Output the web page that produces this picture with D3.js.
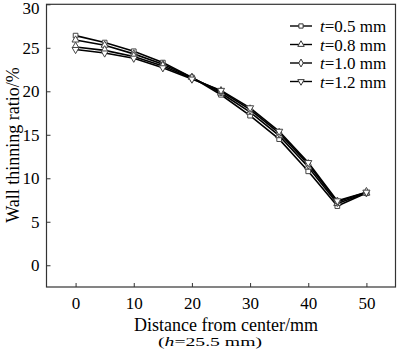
<!DOCTYPE html>
<html><head><meta charset="utf-8">
<script src="https://cdn.jsdelivr.net/npm/d3@7"></script>
<style>body{margin:0;background:#fff}svg{display:block;font-family:"Liberation Serif","Times New Roman",serif}</style>
</head><body>
<svg id="c" width="400" height="350"></svg>
<script>
const distances = [0,5,10,15,20,25,30,35,40,45,50];
const seriesNames = ["0.5 mm","0.8 mm","1.0 mm","1.2 mm"];
const t05 = [26.4,25.6,24.6,23.3,21.6,19.6,17.2,14.5,10.8,6.8,8.3];
const t08 = [25.9,25.3,24.3,23.1,21.6,19.8,17.6,14.9,11.3,7.1,8.3];
const t10 = [25.1,24.7,24.0,22.9,21.5,20.0,17.9,15.2,11.6,7.3,8.4];
const t12 = [24.8,24.4,23.8,22.7,21.4,20.1,18.1,15.4,11.8,7.4,8.4];
const xTicks = [0,10,20,30,40,50];
const yTicks = [0,5,10,15,20,25,30];
const seriesValues = [t05,t08,t10,t12];
const symbols = [d3.symbolSquare, d3.symbolTriangle, d3.symbolDiamond, d3.symbolTriangle];

const svg = d3.select("#c");
const L=46.5, R=395.5, T=4.3, B=287;
const x = d3.scaleLinear().domain([-5,55]).range([L,R]);
const y = d3.scaleLinear().domain([-2.5,30]).range([B,T]);

svg.append("rect").attr("x",L).attr("y",T).attr("width",R-L).attr("height",B-T)
  .attr("fill","none").attr("stroke","#333").attr("stroke-width",1.2);

const xa = svg.append("g").attr("transform",`translate(0,${B})`)
  .call(d3.axisBottom(x).tickValues(xTicks).tickSizeInner(-4).tickSizeOuter(0).tickPadding(10));
xa.select(".domain").remove();
xa.selectAll("text").attr("font-size",17).attr("fill","#000").attr("font-family","Liberation Serif");
xa.selectAll("line").attr("stroke","#333");

const ya = svg.append("g").attr("transform",`translate(${L},0)`)
  .call(d3.axisLeft(y).tickValues(yTicks).tickSizeInner(-4).tickSizeOuter(0).tickPadding(7));
ya.select(".domain").remove();
ya.selectAll("text").attr("font-size",17).attr("fill","#000").attr("font-family","Liberation Serif")
  .attr("dy",(d)=> d===30 ? "0.55em" : "0.32em");
ya.selectAll("line").attr("stroke","#333");

svg.append("text").attr("x",226).attr("y",331).attr("text-anchor","middle")
  .attr("font-size",18).text("Distance from center/mm");
const sub = svg.append("text").attr("x",158).attr("y",346).attr("font-size",13)
  .attr("textLength",104).attr("lengthAdjust","spacingAndGlyphs");
sub.append("tspan").text("(");
sub.append("tspan").attr("font-style","italic").text("h");
sub.append("tspan").text("=25.5 mm)");
svg.append("text").attr("transform","translate(19,145) rotate(-90)").attr("text-anchor","middle")
  .attr("font-size",18).text("Wall thinning ratio/%");

const line = d3.line().x((d,i)=>x(distances[i])).y(d=>y(d));
seriesValues.forEach((vals,k)=>{
  svg.append("path").datum(vals).attr("d",line).attr("fill","none")
    .attr("stroke","#000").attr("stroke-width",1.6);
});
seriesValues.forEach((vals,k)=>{
  const sym = d3.symbol().type(symbols[k]).size(k===2?26:22);
  svg.append("g").selectAll("path").data(vals).join("path")
    .attr("d",sym)
    .attr("transform",(d,i)=>`translate(${x(distances[i])},${y(d)})${k===3?" rotate(180)":""}`)
    .attr("fill","#fff").attr("stroke","#444").attr("stroke-width",1);
});

const lg = svg.append("g");
seriesNames.forEach((n,k)=>{
  const yy = 26 + k*18.5;
  lg.append("line").attr("x1",290).attr("x2",312).attr("y1",yy).attr("y2",yy)
    .attr("stroke","#000").attr("stroke-width",1.4);
  const sym = d3.symbol().type(symbols[k]).size(18);
  lg.append("path").attr("d",sym).attr("transform",`translate(301,${yy})${k===3?" rotate(180)":""}`)
    .attr("fill","#fff").attr("stroke","#333").attr("stroke-width",1);
  const t = lg.append("text").attr("x",320).attr("y",yy+6).attr("font-size",17);
  t.append("tspan").attr("font-style","italic").text("t");
  t.append("tspan").text("=" + n);
});
</script>
</body></html>
